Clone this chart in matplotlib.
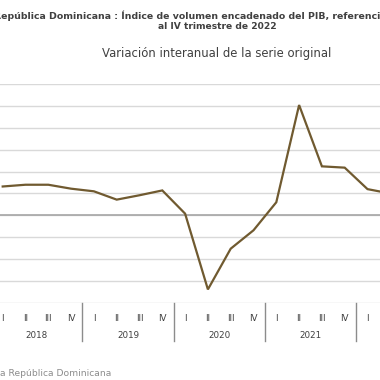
import numpy as np
import matplotlib
matplotlib.use('Agg')
import matplotlib.pyplot as plt
import matplotlib.transforms as mtransforms

# data (year-on-year change, %)
years = ['2018', '2019', '2020', '2021', '2022']
quarters = ['I', 'II', 'III', 'IV']
variacion = [6.6, 7.0, 7.0, 6.1,
             5.5, 3.6, 4.6, 5.7,
             0.4, -16.9, -7.6, -3.4,
             3.0, 25.2, 11.2, 10.9,
             6.0, 5.0]

title_1 = 'República Dominicana : Índice de volumen encadenado del PIB, referencia 2018'
title_2 = 'al IV trimestre de 2022'
subtitle = 'Variación interanual de la serie original'
source = 'Fuente: Banco Central de la República Dominicana'

W = H = 380
plt.rcParams['font.family'] = ['DejaVu Sans']

fig = plt.figure(figsize=(W / 100, H / 100), dpi=100)
fig.patch.set_facecolor('white')

# axes placed in pixel terms; full chart is wider than the visible crop
n_cat = len(years) * len(quarters)
px_per_q = 22.8
x0 = 2.7 - 0.5 * px_per_q
ax_top, ax_bot = 84, 303
ax = fig.add_axes([x0 / W, (H - ax_bot) / H, n_cat * px_per_q / W, (ax_bot - ax_top) / H])

x = np.arange(len(variacion))
ax.set_xlim(-0.5, n_cat - 0.5)
ax.set_ylim(-20, 30)
ax.set_yticks(np.arange(-20, 31, 5))
ax.yaxis.grid(True, color='#d9d9d9', lw=1)
ax.set_axisbelow(True)
ax.tick_params(axis='y', length=0, labelleft=False)
for s in ax.spines.values():
    s.set_visible(False)
ax.axhline(0, color='#a6a6a6', lw=1.2, zorder=1)

ax.plot(x, variacion, color='#705a30', lw=1.6, zorder=3, solid_joinstyle='miter')

# quarter / year category axis (only the quarters that have data)
ax.set_xticks(x)
ax.set_xticklabels((quarters * len(years))[:len(x)])
ax.tick_params(axis='x', length=0, pad=8, labelsize=6.3, labelcolor='#404040')

trans = mtransforms.blended_transform_factory(ax.transData, ax.transAxes)
for i, yr in enumerate(years[:-1]):
    ax.text(i * 4 + 1.5, -0.149, yr, transform=trans, ha='center', va='center',
            fontsize=6.3, color='#404040')
for i in range(1, len(years)):
    ax.plot([i * 4 - 0.5] * 2, [0, -0.172], transform=trans, color='#8c8c8c',
            lw=1, clip_on=False)

cx = 217 / W
fig.text(-6 / W, 1 - 15.7 / H, title_1, ha='left', va='center', fontsize=6.75,
         fontweight='bold', color='#404040')
fig.text(cx, 1 - 26.5 / H, title_2, ha='center', va='center', fontsize=6.6,
         fontweight='bold', color='#404040')
fig.text(cx, 1 - 53 / H, subtitle, ha='center', va='center', fontsize=8.4,
         color='#404040')
fig.text(111 / W, 1 - 373 / H, source, ha='right', va='center', fontsize=6.6,
         color='#8c8c8c')

fig.savefig('out.png', dpi=100, facecolor='white')
